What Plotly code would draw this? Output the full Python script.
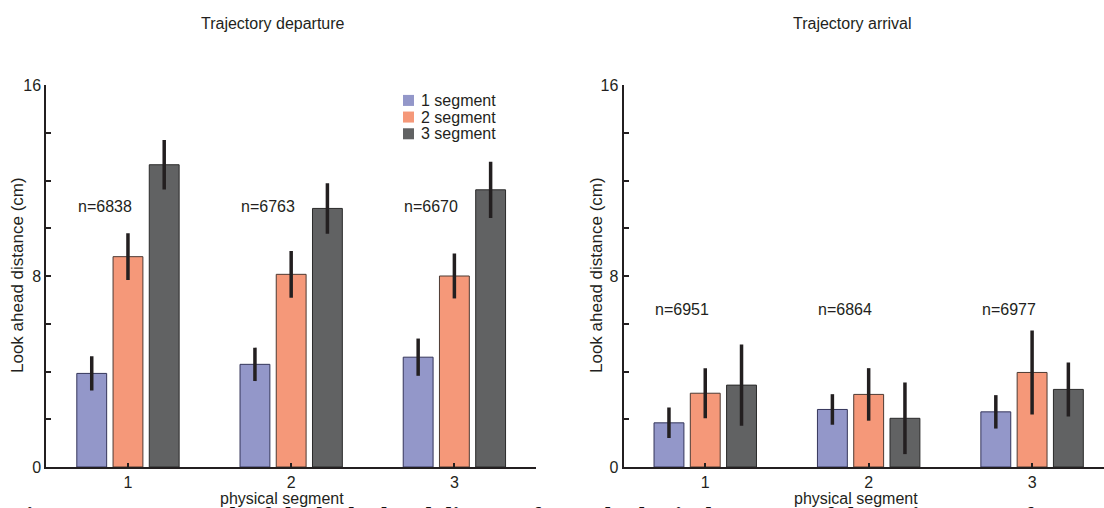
import plotly.graph_objects as go

# ---------------- data ----------------
categories = [1, 2, 3]
category_labels = ["1", "2", "3"]
series_names = ["1 segment", "2 segment", "3 segment"]

departure_means = [
    [3.92, 4.30, 4.60],    # 1 segment
    [8.81, 8.07, 8.00],    # 2 segment
    [12.66, 10.83, 11.61], # 3 segment
]
departure_err = [
    [0.72, 0.70, 0.78],
    [0.98, 0.98, 0.94],
    [1.04, 1.06, 1.18],
]
departure_n = ["n=6838", "n=6763", "n=6670"]

arrival_means = [
    [1.85, 2.41, 2.31],
    [3.09, 3.04, 3.96],
    [3.43, 2.04, 3.25],
]
arrival_err = [
    [0.64, 0.64, 0.70],
    [1.05, 1.10, 1.76],
    [1.70, 1.50, 1.13],
]
arrival_n = ["n=6951", "n=6864", "n=6977"]

y_tickvals = [0, 2, 4, 6, 8, 10, 12, 14, 16]
y_ticktext = ["0", "", "", "", "8", "", "", "", "16"]

# ---------------- style ----------------
fill_colors = ["#9397c9", "#f59879", "#616263"]
edge_colors = ["#34355a", "#4d3a33", "#2a2a2a"]
ink = "#231f20"
font_family = "Liberation Sans, Arial, sans-serif"
W, H = 1104, 508
M_T, M_B = 85.3, 41.3
PLOT_TOP, PLOT_BOT = M_T, H - M_B

fig = go.Figure()

for means, errs, xa, ya in [
    (departure_means, departure_err, "x", "y"),
    (arrival_means, arrival_err, "x2", "y2"),
]:
    for i, name in enumerate(series_names):
        fig.add_trace(go.Bar(
            x=categories, y=means[i], name=name,
            xaxis=xa, yaxis=ya,
            marker=dict(color=fill_colors[i], line=dict(color=edge_colors[i], width=1)),
            error_y=dict(type="data", array=errs[i], color=ink, thickness=3.5, width=0),
            showlegend=False,
        ))

axis_common = dict(showline=True, linecolor=ink, linewidth=2, ticks="inside",
                   tickcolor=ink, tickwidth=1.5, showgrid=False, zeroline=False,
                   tickfont=dict(family=font_family, size=16, color=ink))

fig.update_layout(
    width=W, height=H,
    margin=dict(l=0, r=0, t=M_T, b=M_B),
    paper_bgcolor="white", plot_bgcolor="white",
    barmode="group", bargap=0.334, bargroupgap=0.176,
    font=dict(family=font_family, size=16, color=ink),
    xaxis=dict(domain=[0.0420, 0.4855], range=[0.5, 3.5], tickvals=categories,
               ticktext=category_labels, ticklen=4, **axis_common),
    xaxis2=dict(domain=[0.5648, 1.0], range=[0.5, 3.44], tickvals=categories,
                ticktext=category_labels, ticklen=4, anchor="y2", **axis_common),
    yaxis=dict(range=[0, 16], tickvals=y_tickvals, ticktext=y_ticktext, ticklen=5,
               anchor="x", **axis_common),
    yaxis2=dict(range=[0, 16], tickvals=y_tickvals, ticktext=y_ticktext, ticklen=5,
                anchor="x2", **axis_common),
    showlegend=False,
)

ann = []
# n labels
for xa, ya, labels, yv in [("x", "y", departure_n, 10.91), ("x2", "y2", arrival_n, 6.6)]:
    for c, t in zip(categories, labels):
        ann.append(dict(x=c - 0.142, y=yv, xref=xa, yref=ya, text=t, showarrow=False,
                        font=dict(size=16), xanchor="center", yanchor="middle"))

def px_x(p):
    return p / W

def px_y(p):
    return (PLOT_BOT - p) / (PLOT_BOT - PLOT_TOP)

# panel titles
ann.append(dict(x=px_x(273), y=px_y(24), xref="paper", yref="paper",
                text="Trajectory departure", showarrow=False, font=dict(size=16),
                xanchor="center", yanchor="middle"))
ann.append(dict(x=px_x(852), y=px_y(24), xref="paper", yref="paper",
                text="Trajectory arrival", showarrow=False, font=dict(size=16),
                xanchor="center", yanchor="middle"))
# x titles
for cx in [282, 856]:
    ann.append(dict(x=px_x(cx), y=px_y(498), xref="paper", yref="paper",
                    text="physical segment", showarrow=False, font=dict(size=16),
                    xanchor="center", yanchor="middle"))
# y titles
for cx in [18, 597]:
    ann.append(dict(x=px_x(cx), y=px_y(275), xref="paper", yref="paper",
                    text="Look ahead distance (cm)", textangle=-90, showarrow=False,
                    font=dict(size=17), xanchor="center", yanchor="middle"))

# manual legend
legend_rows_y = [100.7, 117.3, 134.0]
shapes = []
for name, col, ry in zip(series_names, fill_colors, legend_rows_y):
    shapes.append(dict(type="rect", xref="paper", yref="paper",
                       x0=px_x(403), x1=px_x(414), y0=px_y(ry + 5.5), y1=px_y(ry - 5.5),
                       fillcolor=col, line=dict(width=0)))
    ann.append(dict(x=px_x(419), y=px_y(ry), xref="paper", yref="paper", text=name,
                    showarrow=False, font=dict(size=16), xanchor="left", yanchor="middle"))

# partially visible caption below the figure (cut off by the page edge)
ann.append(dict(x=px_x(9), y=px_y(501), xref="paper", yref="paper",
                text="<b>Figure 5.5: Bar graph of the look ahead distance for each physical segment of the trajectory. Left:</b>",
                showarrow=False, xanchor="left", yanchor="top",
                font=dict(family="Liberation Serif, DejaVu Serif, serif", size=25, color="#111111"),
                ))

fig.update_layout(annotations=ann, shapes=shapes)
fig.write_html("out.html")
